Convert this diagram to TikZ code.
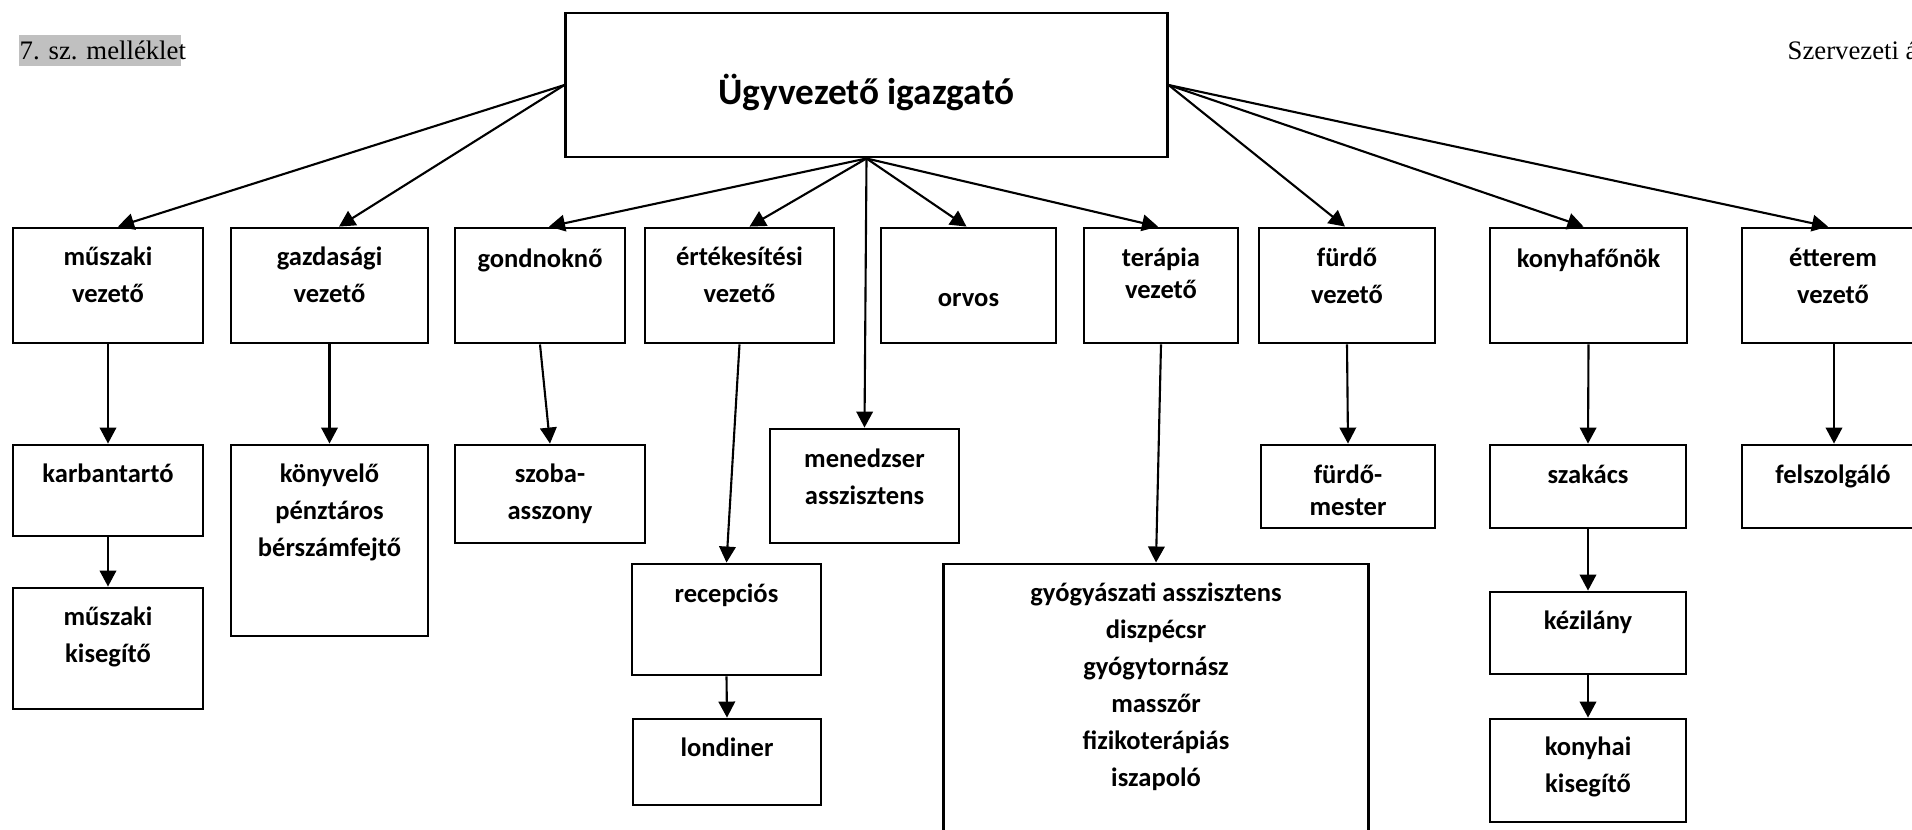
\documentclass[tikz,border=0pt]{standalone}
\usepackage{fontspec}
\setmainfont{Liberation Serif}
\newfontfamily\carl{Carlito}
\usetikzlibrary{arrows.meta,calc}
\definecolor{hl}{RGB}{192,192,192}
\begin{document}
\begin{tikzpicture}[x=0.01cm,y=-0.01cm,
  box/.style={draw,line width=0.8pt,inner sep=0pt},
  lbl/.style={font=\carl\bfseries\fontsize{7.55pt}{10.5pt}\selectfont,align=center,inner sep=0pt},
  tight/.style={font=\carl\bfseries\fontsize{7.55pt}{9pt}\selectfont},
  arr/.style={line width=0.6pt,-{Triangle[length=0.16cm,width=0.165cm]}},
  hdr/.style={font=\fontsize{7.6pt}{9pt}\selectfont,inner sep=0pt,anchor=base west}]
\fill[white] (0,0) rectangle (1912,829);
\useasboundingbox (0,0) rectangle (1912,829);
\clip (0,0) rectangle (1912,829);

% header texts
\fill[hl] (19,35) rectangle (181,66);
\node[hdr] (mell) at (19,59) {7. sz. melléklet};
\node[hdr] (szerv) at (1787,59) {Szervezeti á};

% top
\node[box,minimum width=6.01cm,minimum height=1.44cm] (top) at (866.5,85) {};
\node[lbl,font=\carl\bfseries\fontsize{10.6pt}{12pt}\selectfont] (topt) at (866.5,92) {Ügyvezető igazgató};

% first row
\node[box,minimum width=1.90cm,minimum height=1.15cm] (mv) at (108,285.5) {};
\node[box,minimum width=1.97cm,minimum height=1.15cm] (gv) at (329.5,285.5) {};
\node[box,minimum width=1.70cm,minimum height=1.15cm] (gn) at (540,285.5) {};
\node[box,minimum width=1.89cm,minimum height=1.15cm] (ev) at (739.5,285.5) {};
\node[box,minimum width=1.75cm,minimum height=1.15cm] (orv) at (968.5,285.5) {};
\node[box,minimum width=1.54cm,minimum height=1.15cm] (tv) at (1161,285.5) {};
\node[box,minimum width=1.76cm,minimum height=1.15cm] (fv) at (1347,285.5) {};
\node[box,minimum width=1.97cm,minimum height=1.15cm] (kf) at (1588.5,285.5) {};
\node[box,minimum width=1.84cm,minimum height=1.15cm] (et) at (1834,285.5) {};

\node[lbl] (mvt) at (108,275) {műszaki\\vezető};
\node[lbl] (gvt) at (329.5,275) {gazdasági\\vezető};
\node[lbl] (gnt) at (540,260) {gondnoknő};
\node[lbl] (evt) at (739.5,275) {értékesítési\\vezető};
\node[lbl] (orvt) at (968.5,300) {orvos};
\node[lbl,tight] (tvt) at (1161,273) {terápia\\vezető};
\node[lbl] (fvt) at (1347,276) {fürdő\\vezető};
\node[lbl] (kft) at (1588.5,260) {konyhafőnök};
\node[lbl] (ett) at (1833,276) {étterem\\vezető};

% second row
\node[box,minimum width=1.90cm,minimum height=0.91cm] (kb) at (108,490.5) {};
\node[box,minimum width=1.97cm,minimum height=1.91cm] (kv) at (329.5,540.5) {};
\node[box,minimum width=1.90cm,minimum height=0.98cm] (sz) at (550,494) {};
\node[box,minimum width=1.89cm,minimum height=1.14cm] (mn) at (864.5,486) {};
\node[box,minimum width=1.74cm,minimum height=0.83cm] (fm) at (1348,486.5) {};
\node[box,minimum width=1.96cm,minimum height=0.83cm] (szk) at (1588,486.5) {};
\node[box,minimum width=1.84cm,minimum height=0.83cm] (fs) at (1834,486.5) {};

\node[lbl] (kbt) at (108,473) {karbantartó};
\node[lbl] (kvt) at (329.5,512) {könyvelő\\pénztáros\\bérszámfejtő};
\node[lbl] (szt) at (550,494) {szoba-\\asszony};
\node[lbl] (mnt) at (864.5,477) {menedzser\\asszisztens};
\node[lbl,tight] (fmt) at (1348,490) {fürdő-\\mester};
\node[lbl] (szkt) at (1588,474) {szakács};
\node[lbl] (fst) at (1833,476) {felszolgáló};

% third row
\node[box,minimum width=1.90cm,minimum height=1.21cm] (mk) at (108,648.5) {};
\node[box,minimum width=1.89cm,minimum height=1.11cm] (rc) at (726.5,619.5) {};
\node[box,minimum width=4.24cm,minimum height=2.86cm] (gy) at (1156,707) {};
\node[box,minimum width=1.96cm,minimum height=0.82cm] (kz) at (1588,633) {};

\node[lbl] (mkt) at (108,637) {műszaki\\kisegítő};
\node[lbl] (rct) at (726.5,595) {recepciós};
\node[lbl] (gyt) at (1156,687) {gyógyászati asszisztens\\diszpécsr\\gyógytornász\\masszőr\\fizikoterápiás\\iszapoló};
\node[lbl] (kzt) at (1588,622) {kézilány};

% fourth row
\node[box,minimum width=1.88cm,minimum height=0.86cm] (ld) at (727,762) {};
\node[box,minimum width=1.96cm,minimum height=1.03cm] (kk) at (1588,770.5) {};

\node[lbl] (ldt) at (727,747) {londiner};
\node[lbl] (kkt) at (1588,767) {konyhai\\kisegítő};

% connectors from top
\draw[arr] (top.west) -- ($(mv.north)+(10,0)$);
\draw[arr] (top.west) -- ($(gv.north)+(9.5,0)$);
\draw[arr] (top.south) -- ($(gn.north)+(9,0)$);
\draw[arr] (top.south) -- ($(ev.north)+(10,0)$);
\draw[arr] (top.south) -- ($(orv.north)+(-2,0)$);
\draw[arr] (top.south) -- ($(tv.north)+(-3,0)$);
\draw[arr] (top.south) -- (mn.north);
\draw[arr] (top.east) -- ($(fv.north)+(-2,0)$);
\draw[arr] (top.east) -- ($(kf.north)+(-5,0)$);
\draw[arr] (top.east) -- ($(et.north)+(-6,0)$);

% vertical connectors
\draw[arr] (mv.south) -- (kb.north);
\draw[arr] (kb.south) -- (mk.north);
\draw[arr] (gv.south) -- (kv.north);
\draw[arr] (gn.south) -- (sz.north);
\draw[arr] (ev.south) -- (rc.north);
\draw[arr] (rc.south) -- (ld.north);
\draw[arr] (tv.south) -- (gy.north);
\draw[arr] (fv.south) -- (fm.north);
\draw[arr] (kf.south) -- (szk.north);
\draw[arr] (szk.south) -- (kz.north);
\draw[arr] (kz.south) -- (kk.north);
\draw[arr] (et.south) -- (fs.north);
\end{tikzpicture}
\end{document}
